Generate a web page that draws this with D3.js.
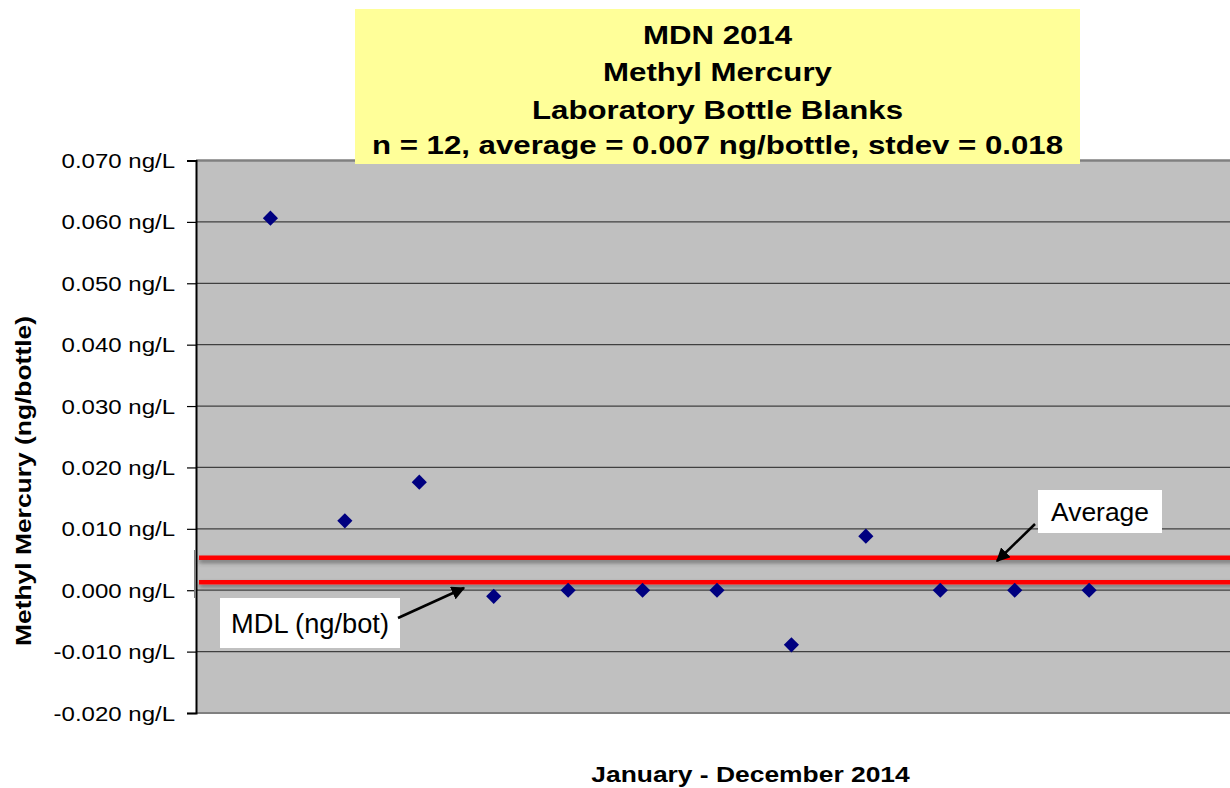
<!DOCTYPE html>
<html>
<head>
<meta charset="utf-8">
<script src="https://cdn.jsdelivr.net/npm/d3@7"></script>
<style>
  html, body { margin: 0; padding: 0; background: #ffffff; overflow: hidden; }
  svg { display: block; }
  text { font-family: "Liberation Sans", Arial, sans-serif; fill: #000; }
</style>
</head>
<body>
<svg id="chart" width="1230" height="788"></svg>
<script>
// ---------- data ----------
const sampleIndex = [1, 2, 3, 4, 5, 6, 7, 8, 9, 10, 11, 12];
const blankValues = [0.0606, 0.0113, 0.0176, -0.001, 0, 0, 0, -0.0089, 0.0088, 0, 0, 0];
const averageLine = 0.0053;
const mdlLine = 0.0013;
const yTickValues = [-0.02, -0.01, 0, 0.01, 0.02, 0.03, 0.04, 0.05, 0.06, 0.07];
const titleLines = ["MDN 2014", "Methyl Mercury", "Laboratory Bottle Blanks",
                    "n = 12, average = 0.007 ng/bottle, stdev = 0.018"];
const xTitle = "January - December 2014";
const yTitle = "Methyl Mercury (ng/bottle)";
const averageLabel = "Average";
const mdlLabel = "MDL (ng/bot)";

// ---------- layout ----------
const svg = d3.select("#chart");
const plot = { left: 196, right: 1238, top: 160.5, bottom: 713 };
const STRETCH = 1.2;

const x = d3.scaleLinear().domain([0, 14]).range([plot.left, plot.right]);
const y = d3.scaleLinear().domain([-0.02, 0.07]).range([plot.bottom, plot.top]);

const locale = d3.formatLocale({ decimal: ".", thousands: ",", grouping: [3], currency: ["", ""], minus: "-" });
const fmt = locale.format(".3f");

function stretch(sel, k) {
  sel.each(function () {
    const w = this.getComputedTextLength();
    d3.select(this).attr("textLength", w * k).attr("lengthAdjust", "spacingAndGlyphs");
  });
}

// defs
const defs = svg.append("defs");
const sh = defs.append("filter").attr("id", "shadow")
  .attr("x", "-5%").attr("y", "-200%").attr("width", "110%").attr("height", "500%");
sh.append("feDropShadow").attr("dx", 0).attr("dy", 3).attr("stdDeviation", 2)
  .attr("flood-color", "#404040").attr("flood-opacity", 0.6);
defs.append("marker").attr("id", "arrow").attr("viewBox", "0 0 10 10")
  .attr("refX", 9).attr("refY", 5).attr("markerWidth", 5.5).attr("markerHeight", 5.5)
  .attr("markerUnits", "strokeWidth").attr("orient", "auto")
  .append("path").attr("d", "M0,0 L10,5 L0,10 Z").attr("fill", "#000");

// plot background
svg.append("rect")
  .attr("x", plot.left).attr("y", plot.top)
  .attr("width", plot.right - plot.left).attr("height", plot.bottom - plot.top)
  .attr("fill", "#c0c0c0");

// gridlines
svg.append("g").selectAll("line")
  .data(yTickValues.filter(v => v > -0.02 && v < 0.07))
  .join("line")
  .attr("x1", plot.left).attr("x2", plot.right)
  .attr("y1", d => y(d)).attr("y2", d => y(d))
  .attr("stroke", "#404040").attr("stroke-width", 1.2);

// top and bottom borders
svg.append("line").attr("x1", plot.left).attr("x2", plot.right)
  .attr("y1", y(0.07)).attr("y2", y(0.07)).attr("stroke", "#808080").attr("stroke-width", 2.5);
svg.append("line").attr("x1", plot.left).attr("x2", plot.right)
  .attr("y1", y(-0.02)).attr("y2", y(-0.02)).attr("stroke", "#808080").attr("stroke-width", 2);

// y axis
const yAxis = d3.axisLeft(y).tickValues(yTickValues).tickSize(9).tickPadding(12)
  .tickFormat(d => fmt(d) + " ng/L");
const gy = svg.append("g").attr("transform", `translate(${plot.left},0)`).call(yAxis);
gy.select(".domain").attr("stroke", "#000").attr("stroke-width", 2);
gy.selectAll(".tick line").attr("stroke", "#000").attr("stroke-width", 1.2);
gy.selectAll(".tick text")
  .attr("font-family", "'Liberation Sans', Arial, sans-serif")
  .attr("font-size", 20).attr("fill", "#000")
  .attr("dy", null).attr("dominant-baseline", "central")
  .attr("x", -21);
stretch(gy.selectAll(".tick text"), STRETCH);

// small gray bar on the axis near the reference lines
svg.append("line").attr("x1", plot.left - 1).attr("x2", plot.left - 1)
  .attr("y1", 550).attr("y2", 598).attr("stroke", "#808080").attr("stroke-width", 2);

// reference lines (average and MDL)
svg.append("g").attr("filter", "url(#shadow)").selectAll("line")
  .data([averageLine, mdlLine])
  .join("line")
  .attr("x1", plot.left + 3).attr("x2", plot.right)
  .attr("y1", d => y(d)).attr("y2", d => y(d))
  .attr("stroke", "#ff0000").attr("stroke-width", 4.5);

// points
svg.append("g").selectAll("path")
  .data(sampleIndex.map((k, i) => ({ k, v: blankValues[i] })))
  .join("path")
  .attr("d", d3.symbol(d3.symbolSquare, 115))
  .attr("transform", d => `translate(${x(d.k)},${y(d.v)}) rotate(45)`)
  .attr("fill", "#000080");

// annotations
function callout(label, box, font, size, from, to) {
  svg.append("rect").attr("x", box[0]).attr("y", box[1])
    .attr("width", box[2]).attr("height", box[3]).attr("fill", "#ffffff");
  const t = svg.append("text").attr("x", box[0] + box[2] / 2).attr("y", box[1] + box[3] / 2)
    .attr("text-anchor", "middle").attr("dominant-baseline", "central")
    .attr("font-family", font).attr("font-size", size).text(label);
  svg.append("line").attr("x1", from[0]).attr("y1", from[1])
    .attr("x2", to[0]).attr("y2", to[1])
    .attr("stroke", "#000").attr("stroke-width", 2.5).attr("marker-end", "url(#arrow)");
  return t;
}
const avgT = callout(averageLabel, [1038, 490, 124, 43], "'Liberation Sans', Arial, sans-serif", 26,
  [1035, 524], [997, 561]);
avgT.attr("textLength", 98).attr("lengthAdjust", "spacingAndGlyphs");
const mdlT = callout(mdlLabel, [220, 598, 180, 50], "Carlito, Lato, 'Open Sans', sans-serif", 27,
  [398, 618], [464, 588]);
mdlT.attr("textLength", 158).attr("lengthAdjust", "spacingAndGlyphs").attr("dy", 1);

// title box
svg.append("rect").attr("x", 355).attr("y", 9).attr("width", 725).attr("height", 155)
  .attr("fill", "#ffff99");
const titleBase = [43.5, 81, 118.5, 154];
const tt = svg.append("g").selectAll("text").data(titleLines).join("text")
  .attr("x", 717.5).attr("y", (d, i) => titleBase[i])
  .attr("text-anchor", "middle").attr("font-weight", "bold").attr("font-size", 26)
  .text(d => d);
stretch(tt, STRETCH);

// x axis title
const xt = svg.append("text").attr("x", 750.5).attr("y", 782)
  .attr("text-anchor", "middle").attr("font-weight", "bold").attr("font-size", 22)
  .text(xTitle);
stretch(xt, STRETCH);

// y axis title
const yt = svg.append("text")
  .attr("transform", "translate(31,481) rotate(-90)")
  .attr("text-anchor", "middle").attr("font-weight", "bold").attr("font-size", 22)
  .text(yTitle);
stretch(yt, STRETCH);
</script>
</body>
</html>
